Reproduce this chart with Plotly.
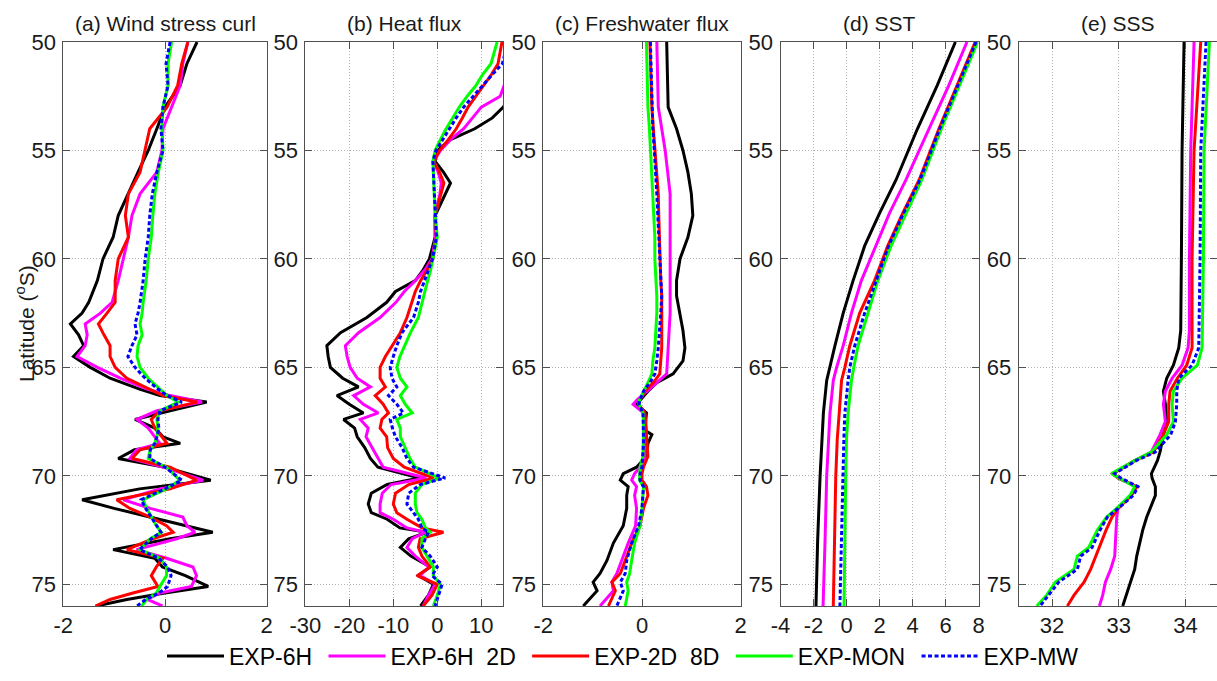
import plotly.graph_objects as go

# ---------------- data ----------------
NAMES = ["EXP-6H", "EXP-6H\u00a0\u00a02D", "EXP-2D\u00a0\u00a08D", "EXP-MON", "EXP-MW"]
COLORS = ["#000000", "#ff00ff", "#ff0000", "#00ff00", "#0000ff"]
TITLES = ["(a) Wind stress curl", "(b) Heat flux", "(c) Freshwater flux", "(d) SST", "(e) SSS"]

# (a) wind stress curl
A_LAT = [50, 51, 52, 53, 54, 55, 56, 57, 58, 59, 60, 61, 62, 62.5, 63, 63.5, 64, 64.5, 65, 65.5, 66,
         66.3, 66.6, 67, 67.4, 67.8, 68.2, 68.5, 68.8, 69.2, 69.6,
         70.2, 70.6, 71.1, 71.5, 71.9, 72.3, 72.6, 72.9, 73.4, 73.8,
         74.2, 74.6, 75.1, 75.4, 75.7, 76]
A_6H = [0.63, 0.43, 0.3, 0.0, -0.16, -0.33, -0.53, -0.72, -0.92, -1.02, -1.22, -1.33, -1.5, -1.63, -1.86, -1.7, -1.6, -1.8, -1.47, -1.08, -0.5,
        -0.1, 0.82, 0.1, -0.59, -0.2, -0.04, 0.3, -0.6, -0.92, 0.0,
        0.9, -0.5, -1.63, -1.0, -0.3, 0.43, 0.94, 0.1, -1.02, -0.2,
        -0.05, 0.4, 0.85, 0.0, -0.75, -1.35]
A_6H2D = [0.45, 0.35, 0.3, 0.13, -0.04, -0.06, -0.16, -0.49, -0.65, -0.72, -0.82, -0.92, -1.04, -1.27, -1.57, -1.53, -1.57, -1.73, -1.33, -0.88, -0.35,
          0.1, 0.73, -0.16, -0.55, -0.33, -0.2, -0.1, -0.56, -0.69, -0.04,
          0.75, -0.1, -0.82, -0.29, 0.35, 0.43, 0.59, 0.23, -0.56, 0.03,
          0.55, 0.62, 0.52, -0.1, -0.35, -0.05]
A_2D8D = [0.45, 0.33, 0.25, 0.04, -0.3, -0.39, -0.49, -0.72, -0.78, -0.72, -0.92, -0.98, -0.98, -1.14, -1.31, -1.2, -1.08, -1.08, -0.98, -0.75, -0.3,
          -0.04, 0.63, -0.1, -0.27, -0.2, -0.06, 0.04, -0.49, -0.65, 0.1,
          0.62, 0.1, -0.95, -0.69, -0.29, 0.03, 0.16, -0.24, -0.75, -0.04,
          -0.17, -0.27, -0.14, -0.63, -1.08, -1.37]
A_MON = [0.13, 0.06, 0.06, -0.04, -0.06, -0.04, -0.13, -0.2, -0.24, -0.27, -0.33, -0.37, -0.43, -0.45, -0.49, -0.45, -0.53, -0.55, -0.49, -0.33, -0.1,
         0.04, 0.26, -0.1, -0.16, -0.14, -0.16, -0.2, -0.29, -0.33, 0.03,
         0.29, 0.03, -0.43, -0.36, -0.27, -0.17, -0.07, -0.29, -0.49, -0.1,
         0.03, 0.03, -0.1, -0.17, -0.36, -0.46]
A_MW = [0.1, 0.02, 0.06, -0.04, -0.08, -0.04, -0.16, -0.25, -0.3, -0.33, -0.39, -0.43, -0.49, -0.53, -0.59, -0.55, -0.65, -0.73, -0.59, -0.39, -0.14,
        0.04, 0.33, -0.1, -0.14, -0.12, -0.16, -0.2, -0.29, -0.3, 0.0,
        0.33, 0.0, -0.47, -0.38, -0.27, -0.17, -0.08, -0.27, -0.5, -0.12,
        0.05, 0.12, 0.05, -0.12, -0.38, -0.55]

# (b) heat flux
B_LAT = [50, 51, 51.5, 52, 52.5, 53, 53.5, 54, 54.5, 55,
         55.5, 56, 56.5, 57, 58, 59, 60, 60.5, 61, 61.5,
         62, 62.7, 63.4, 64, 64.5, 65, 65.5, 65.9, 66.3, 66.7,
         67.1, 67.4, 67.8, 68.2, 68.7, 69.2, 69.6, 70.1, 70.4, 70.8,
         71.3, 71.7, 72.0, 72.4, 72.6, 72.9, 73.3, 73.7, 74.2, 74.6,
         75.0, 75.5, 76]
B_6H = [24, 21, 19.5, 18, 16.5, 15, 12.5, 8.5, 3.0, 0.0,
        -0.5, 1.4, 3.0, 1.8, -0.5, -0.5, -1.8, -3.2, -5.0, -9.5,
        -11.5, -16, -22, -25.1, -24.8, -24.3, -21.5, -17.9, -22.8, -20,
        -16.8, -21.3, -18.8, -18.2, -16.5, -15.2, -13.5, -4.0, -11.4, -15.0,
        -15.7, -15.0, -11.4, -8.5, -2.3, -6.5, -8.4, -6.0, -1.6, -4.3,
        -0.9, -2.0, -3.8]
B_6H2D = [22, 18, 16.5, 15.2, 14.3, 10, 8, 6, 3, 0.7,
          -0.8, 0.2, 0.9, 0.6, -0.5, -0.4, -1.2, -2.8, -5.0, -7.5,
          -9.4, -13, -17.9, -20.9, -20.5, -19.8, -18.2, -15.2, -19, -16.8,
          -13.4, -17.5, -15.7, -16.2, -14.8, -13.4, -12.3, -2.5, -10.5, -12.5,
          -13, -13, -10, -6.9, -2.7, -5.7, -6.9, -5.0, -2.0, -3.9,
          -0.5, -2.0, -3.2]
B_2D8D = [14.7, 13.8, 12.3, 10.5, 8.8, 7.0, 5.7, 4.3, 2.5, 0.5,
          -0.8, 0.5, 1.5, 0.8, -0.5, -0.2, -1.0, -2.3, -3.8, -5.0,
          -5.8, -6.9, -8.4, -10.2, -11.8, -13, -13, -11.8, -14.1, -12.3,
          -11.1, -12.6, -13, -11.5, -11.3, -10, -7.5, -0.8, -6.5, -9.5,
          -10, -9.2, -6.9, -3.5, 1.4, -3.9, -4.3, -3.5, -1.6, -4.6,
          0.0, -1.2, -3.2]
B_MON = [13.6, 12.2, 10.3, 8.8, 6.8, 5.0, 3.5, 2.0, 0.7, -0.5,
         -1.0, -0.9, -0.7, -0.6, -0.5, 0.0, -0.9, -1.5, -2.2, -2.8,
         -3.4, -4.3, -6.1, -7.5, -8.5, -9.2, -8.4, -6.9, -8.4, -7.3,
         -5.7, -9.2, -8.4, -8.4, -7.3, -6.2, -5.0, 0.5, -3.5, -5.0,
         -5.0, -4.6, -3.5, -2.7, -1.6, -3.5, -3.5, -2.3, -0.9, -0.9,
         0.7, 0.0, -0.9]
B_MW = [16.0, 14.8, 12.5, 10.3, 8.0, 6.0, 4.3, 2.8, 1.2, -0.3,
        -1.0, -0.9, -0.8, -0.7, -0.5, -0.2, -1.1, -2.0, -3.0, -3.8,
        -4.3, -5.4, -8.0, -9.2, -10.0, -10.7, -10.3, -9.2, -11.1, -9.2,
        -7.7, -10.7, -10.2, -9.5, -8.0, -6.9, -5.4, 1.8, -3.9, -6.5,
        -6.9, -5.4, -4.3, -3.5, -2.0, -2.7, -3.5, -1.6, 0.0, -1.2,
        1.1, 0.3, -0.5]

# (c) freshwater flux
C_LAT = [50, 53, 54, 55, 56, 57, 58, 59, 60, 61,
         61.7, 62.5, 63.3, 64.1, 64.7, 65.3, 65.7, 66.1, 66.5, 66.7,
         67.1, 67.5, 67.9, 68.1, 68.5, 69.1, 69.6, 69.9, 70.2, 70.5,
         70.9, 71.5, 72.3, 73.1, 73.9, 74.5, 74.9, 75.3, 76]
C_6H = [0.5, 0.53, 0.7, 0.83, 0.93, 1.0, 1.03, 0.93, 0.77, 0.7,
        0.7, 0.77, 0.83, 0.87, 0.83, 0.63, 0.3, 0.12, -0.04, -0.11,
        0.09, 0.08, 0.06, 0.2, 0.12, 0.09, -0.11, -0.38, -0.44, -0.28,
        -0.31, -0.31, -0.38, -0.58, -0.71, -0.85, -0.99, -0.91, -1.19]
C_6H2D = [0.3, 0.33, 0.4, 0.47, 0.52, 0.57, 0.57, 0.57, 0.57, 0.57,
          0.57, 0.57, 0.55, 0.53, 0.52, 0.5, 0.3, 0.09, -0.1, -0.18,
          0.03, 0.05, 0.06, 0.06, 0.06, 0.06, -0.04, -0.15, -0.21, -0.11,
          -0.15, -0.11, -0.13, -0.28, -0.41, -0.51, -0.61, -0.58, -0.85]
C_2D8D = [0.16, 0.2, 0.23, 0.26, 0.3, 0.33, 0.34, 0.35, 0.36, 0.38,
          0.4, 0.4, 0.4, 0.4, 0.38, 0.36, 0.23, 0.06, -0.04, -0.07,
          0.06, 0.08, 0.09, 0.09, 0.1, 0.12, 0.03, 0.0, 0.0, 0.09,
          0.12, 0.03, -0.04, -0.21, -0.34, -0.44, -0.61, -0.54, -0.68]
C_MON = [0.09, 0.12, 0.15, 0.17, 0.2, 0.22, 0.24, 0.26, 0.26, 0.28,
         0.3, 0.3, 0.28, 0.26, 0.22, 0.2, 0.12, 0.03, -0.05, -0.06,
         0.02, 0.03, 0.03, 0.03, 0.03, 0.02, -0.04, -0.05, -0.05, 0.03,
         0.02, 0.0, -0.04, -0.15, -0.21, -0.25, -0.31, -0.28, -0.34]
C_MW = [0.17, 0.2, 0.22, 0.25, 0.28, 0.3, 0.32, 0.34, 0.36, 0.38,
        0.4, 0.38, 0.36, 0.33, 0.3, 0.26, 0.16, 0.03, -0.04, -0.06,
        0.02, 0.03, 0.03, 0.03, 0.03, 0.02, 0.0, -0.04, -0.04, 0.03,
        0.02, 0.0, -0.07, -0.21, -0.31, -0.34, -0.44, -0.38, -0.51]

# (d) SST
D_LAT = [50, 52, 54, 56.36, 57.9, 59.4, 61, 62.5, 64, 65, 65.6, 67.1, 68.3, 70, 73, 76]
D_6H = [6.6, 5.5, 4.3, 3.0, 2.0, 1.1, 0.4, -0.2, -0.7, -1.0, -1.2, -1.4, -1.5, -1.6, -1.75, -1.85]
D_6H2D = [7.3, 6.2, 5.0, 3.6, 2.6, 1.8, 0.9, 0.3, -0.2, -0.6, -0.8, -1.0, -1.1, -1.2, -1.3, -1.42]
D_2D8D = [7.8, 6.7, 5.6, 4.4, 3.4, 2.5, 1.7, 0.8, 0.2, -0.1, -0.3, -0.44, -0.56, -0.65, -0.72, -0.8]
D_MON = [7.95, 6.85, 5.75, 4.56, 3.6, 2.7, 1.9, 1.3, 0.7, 0.44, 0.3, 0.1, 0.0, -0.05, -0.1, -0.15]
D_MW = [7.85, 6.75, 5.65, 4.45, 3.45, 2.55, 1.8, 1.1, 0.5, 0.2, 0.1, -0.1, -0.16, -0.22, -0.3, -0.4]

# (e) SSS
E_LAT = [50, 55, 60, 63.3, 64.1, 64.9, 65.5, 66.1, 66.7, 67.5, 68.1, 68.9, 69.3, 69.9, 70.1, 70.5, 70.9,
         71.5, 71.9, 72.5, 73.3, 73.7, 74.3, 74.9, 75.5, 76]
E_6H = [33.98, 33.95, 33.94, 33.93, 33.9, 33.82, 33.72, 33.67, 33.7, 33.72, 33.67, 33.62, 33.58, 33.49, 33.5, 33.55, 33.55,
        33.47, 33.42, 33.36, 33.3, 33.27, 33.24, 33.18, 33.12, 33.06]
E_6H2D = [34.13, 34.08, 34.06, 34.06, 34.04, 33.95, 33.8, 33.7, 33.67, 33.7, 33.62, 33.49, 33.24, 32.91, 32.99, 33.27, 33.19,
          32.99, 32.97, 32.96, 32.95, 32.94, 32.88, 32.8, 32.76, 32.71]
E_2D8D = [34.23, 34.13, 34.1, 34.1, 34.1, 34.02, 33.88, 33.77, 33.75, 33.75, 33.67, 33.52, 33.24, 32.91, 32.99, 33.27, 33.19,
          32.99, 32.9, 32.81, 32.71, 32.66, 32.58, 32.48, 32.33, 32.23]
E_MON = [34.36, 34.28, 34.27, 34.25, 34.25, 34.18, 33.95, 33.82, 33.8, 33.82, 33.72, 33.49, 33.24, 32.89, 33.0, 33.24, 33.17,
         32.97, 32.82, 32.68, 32.55, 32.38, 32.33, 32.05, 31.92, 31.77]
E_MW = [34.31, 34.23, 34.22, 34.2, 34.2, 34.1, 33.9, 33.87, 33.87, 33.85, 33.78, 33.55, 33.26, 32.94, 33.03, 33.29, 33.22,
        32.99, 32.83, 32.72, 32.6, 32.43, 32.38, 32.1, 31.94, 31.82]

X_RANGES = [[-2, 2], [-30, 15], [-2, 2], [-4, 8], [31.5, 34.474]]
X_TICKS = [[-2, 0, 2], [-30, -20, -10, 0, 10], [-2, 0, 2], [-4, -2, 0, 2, 4, 6, 8], [32, 33, 34]]
Y_TICKS = [50, 55, 60, 65, 70, 75]

PANELS = [
    (A_LAT, [A_6H, A_6H2D, A_2D8D, A_MON, A_MW]),
    (B_LAT, [B_6H, B_6H2D, B_2D8D, B_MON, B_MW]),
    (C_LAT, [C_6H, C_6H2D, C_2D8D, C_MON, C_MW]),
    (D_LAT, [D_6H, D_6H2D, D_2D8D, D_MON, D_MW]),
    (E_LAT, [E_6H, E_6H2D, E_2D8D, E_MON, E_MW]),
]

# ---------------- layout geometry ----------------
W, H = 1217, 681
X_PX = [(63.3, 266.7), (305.3, 503.3), (543.3, 740.7), (780.5, 978.5), (1018.7, 1217.0)]
Y_TOP, Y_BOT = 42, 606
FONT = "Liberation Sans, Arial, Helvetica, sans-serif"
AXC = "#505050"
LEGEND_PAD = "\u00a0"   # small trailing gap between legend entries

fig = go.Figure()
for p, (lat, series) in enumerate(PANELS):
    ax = "" if p == 0 else str(p + 1)
    for s, vals in enumerate(series):
        fig.add_trace(go.Scatter(
            x=vals, y=lat, mode="lines", name=NAMES[s] + LEGEND_PAD,
            xaxis="x" + ax, yaxis="y" + ax,
            line=dict(color=COLORS[s], width=3,
                      dash="4px,2.5px" if s == 4 else "solid"),
            showlegend=(p == 0), legendgroup=NAMES[s],
        ))

layout = dict(
    width=W, height=H, margin=dict(l=0, r=0, t=0, b=0, autoexpand=False),
    paper_bgcolor="white", plot_bgcolor="white",
    font=dict(family=FONT, size=22, color="#1a1a1a"),
    showlegend=True,
    legend=dict(orientation="h", x=162 / W, xanchor="left", y=(H - 656) / H, yanchor="middle",
                font=dict(size=23, family=FONT, color="#000000"), itemwidth=57,
                bgcolor="rgba(0,0,0,0)", traceorder="normal"),
)
ydom = [(H - Y_BOT) / H, (H - Y_TOP) / H]
common = dict(showline=True, linecolor=AXC, linewidth=1, mirror="ticks", ticks="inside",
              ticklen=7, tickwidth=1, tickcolor=AXC, showgrid=True, gridcolor="#b4b4b4",
              griddash="1px,2px", gridwidth=1, zeroline=False, automargin=False,
              tickfont=dict(size=22, family=FONT, color="#1a1a1a"))
annotations = []
for p in range(5):
    ax = "" if p == 0 else str(p + 1)
    x0, x1 = X_PX[p]
    layout["xaxis" + ax] = dict(domain=[x0 / W, x1 / W], anchor="y" + ax, range=X_RANGES[p],
                                tickvals=X_TICKS[p], ticktext=[str(v) for v in X_TICKS[p]],
                                ticklabelstandoff=0, **common)
    layout["yaxis" + ax] = dict(domain=ydom, anchor="x" + ax, range=[76, 50],
                                tickvals=Y_TICKS, ticklabelstandoff=2, **common)
    annotations.append(dict(text=TITLES[p], x=(x0 + x1) / 2 / W, y=(H - 23) / H, xref="paper", yref="paper",
                            showarrow=False, xanchor="center", yanchor="middle",
                            font=dict(size=21, family=FONT, color="#1a1a1a")))
annotations.append(dict(text="Latitude (<sup>o</sup>S)", x=25 / W, y=(H - 324) / H, xref="paper", yref="paper",
                        showarrow=False, textangle=-90, xanchor="center", yanchor="middle",
                        font=dict(size=21, family=FONT, color="#1a1a1a")))
layout["annotations"] = annotations
fig.update_layout(**layout)
fig.write_html("out.html")
